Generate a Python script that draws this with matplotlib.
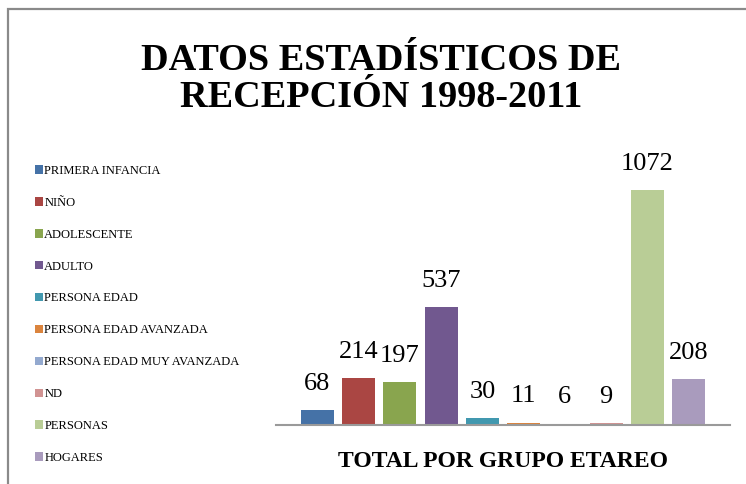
import matplotlib.pyplot as plt
from matplotlib.patches import Patch, Rectangle

categorias = ['PRIMERA INFANCIA', 'NIÑO', 'ADOLESCENTE', 'ADULTO', 'PERSONA EDAD',
              'PERSONA EDAD AVANZADA', 'PERSONA EDAD MUY AVANZADA', 'ND',
              'PERSONAS', 'HOGARES']
valores = [68, 214, 197, 537, 30, 11, 6, 9, 1072, 208]
colores = ['#4572A7', '#AA4643', '#89A54E', '#71588F', '#4198AF',
           '#DB843D', '#93A9CF', '#D19392', '#B9CD96', '#A99BBD']

plt.rcParams['font.family'] = ['Liberation Serif', 'DejaVu Serif']

W, H = 746, 484
fig = plt.figure(figsize=(W / 100, H / 100), dpi=100)

# marco del gráfico (solo se ven borde superior e izquierdo)
fig.patches.append(Rectangle((8 / W, -0.1), 1.2, (H - 9) / H + 0.1,
                             transform=fig.transFigure, fill=False,
                             edgecolor='#8a8a8a', linewidth=1.6))

ax = fig.add_axes([276 / W, 59 / H, 454 / W, 263 / H])
x = list(range(len(valores)))
barras = ax.bar(x, valores, width=0.8, color=colores)
ax.bar_label(barras, labels=[str(v) for v in valores], padding=11, fontsize=19)

ax.set_xlim(-1, len(valores))
ax.set_ylim(0, 1200)
for s in ['top', 'right', 'left']:
    ax.spines[s].set_visible(False)
ax.spines['bottom'].set_color('#9a9a9a')
ax.spines['bottom'].set_linewidth(1.5)
ax.set_xticks([])
ax.set_yticks([])
ax.set_xlabel('TOTAL POR GRUPO ETAREO', fontsize=17, fontweight='bold', labelpad=19)

# título
fig.text(381 / W, 1 - 79 / H, 'DATOS ESTADÍSTICOS DE\nRECEPCIÓN 1998-2011',
         ha='center', va='center', fontsize=27.5, fontweight='bold', linespacing=1.07)

# leyenda
handles = [Patch(facecolor=c, edgecolor='none') for c in colores]
fig.legend(handles, categorias, loc='upper left', bbox_to_anchor=(35 / W, 1 - 165 / H),
           frameon=False, fontsize=9, handlelength=0.65, handleheight=0.65,
           handletextpad=0.1, labelspacing=1.59, borderpad=0, borderaxespad=0)

fig.savefig('out.png', dpi=100)
